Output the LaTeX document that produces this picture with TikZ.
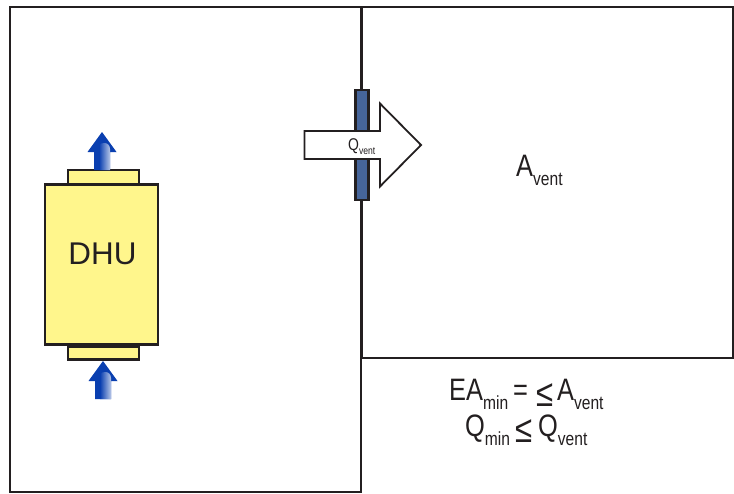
\documentclass[tikz,border=0pt]{standalone}
\usepackage{fontspec}
\setmainfont{Liberation Sans}
\newfontfamily\condfont[FakeStretch=0.82]{Liberation Sans}
\usetikzlibrary{calc}
\definecolor{duct}{HTML}{FFF68C}
\definecolor{ink}{HTML}{231F20}
\definecolor{vent}{HTML}{46659A}
\definecolor{arrowblue}{HTML}{0A3FB0}
\newcommand{\blueup}[2]{%
  \fill[arrowblue] (#1,#2) -- ++(14.5,20) -- ++(-6.5,0) -- ++(0,18) -- ++(-16,0) -- ++(0,-18) -- ++(-6.5,0) -- cycle;
  \shade[left color=arrowblue,middle color=arrowblue!75!white,right color=arrowblue!30!white]
     (#1-3,#2+38) -- ++(0,-24) to[out=90,in=180] ++(5.5,-3) to[out=0,in=90] ++(5.5,6) -- ++(0,21) -- cycle;
}
\newcommand{\lsub}[1]{\raisebox{-9pt}{\fontsize{19}{19}\selectfont #1}}
\newcommand{\lleq}{\raisebox{-6pt}{\fontsize{38}{38}\selectfont ≤}}
\tikzset{
  wall/.style={draw=ink,line width=2.4pt,inner sep=0pt,outer sep=0pt},
  ductbox/.style={draw=ink,fill=duct,line width=2.4pt,inner sep=0pt,outer sep=0pt,anchor=north west},
  lab/.style={inner sep=0pt,text=ink},
}
\begin{document}
\begin{tikzpicture}[x=1pt,y=-1pt]
\useasboundingbox (0,0) rectangle (734,493);
\fill[white] (0,0) rectangle (734,493);
% rooms
\node[wall,minimum width=351pt,minimum height=485pt,anchor=north west] (roomL) at (10,7) {};
\node[wall,minimum width=371pt,minimum height=351pt,anchor=north west] (roomR) at (362,7) {};
\draw[ink,line width=3pt] (361.5,7) -- (361.5,90);
\draw[ink,line width=3pt] (361.5,200) -- (361.5,358);
% vent
\node[draw=ink,fill=vent,line width=2.4pt,outer sep=0pt,minimum width=13pt,minimum height=110pt,inner sep=0pt,anchor=north west] (ventbar) at (355.5,90) {};
% flow arrow
\draw[draw=ink,fill=white,line width=1.8pt,line join=miter] (304.5,131) -- (380,131) -- (380,103.5) -- (421,145) -- (380,186.5) -- (380,159) -- (304.5,159) -- cycle;
\node[lab,anchor=base west] (qv) at (348,150) {\condfont\fontsize{17}{17}\selectfont Q\raisebox{-4pt}{\fontsize{10.5}{10.5}\selectfont vent}};
% DHU
\node[ductbox,minimum width=71pt,minimum height=14pt] (topduct) at (68,170) {};
\node[ductbox,minimum width=71pt,minimum height=13pt] (botduct) at (68,346.5) {};
\node[ductbox,minimum width=113pt,minimum height=160pt] (dhu) at (45,184.5) {};
\node[lab] (dhulab) at (102.5,254) {\fontsize{31.4}{32}\selectfont DHU};
% blue arrows
\blueup{102}{132}
\blueup{103}{361}
% labels
\node[lab,anchor=base west] (avent) at (516,176) {\condfont\fontsize{31}{31}\selectfont A\lsub{vent}};
\node[lab,anchor=base west] (eq1) at (449,400) {\condfont\fontsize{31}{31}\selectfont EA\lsub{min}\hspace{5pt}=\hspace{8pt}\lleq\hspace{4pt}A\lsub{vent}};
\node[lab,anchor=base west] (eq2) at (465,436) {\condfont\fontsize{31}{31}\selectfont Q\lsub{min}\hspace{5pt}\lleq\hspace{6pt}Q\lsub{vent}};
\end{tikzpicture}
\end{document}
